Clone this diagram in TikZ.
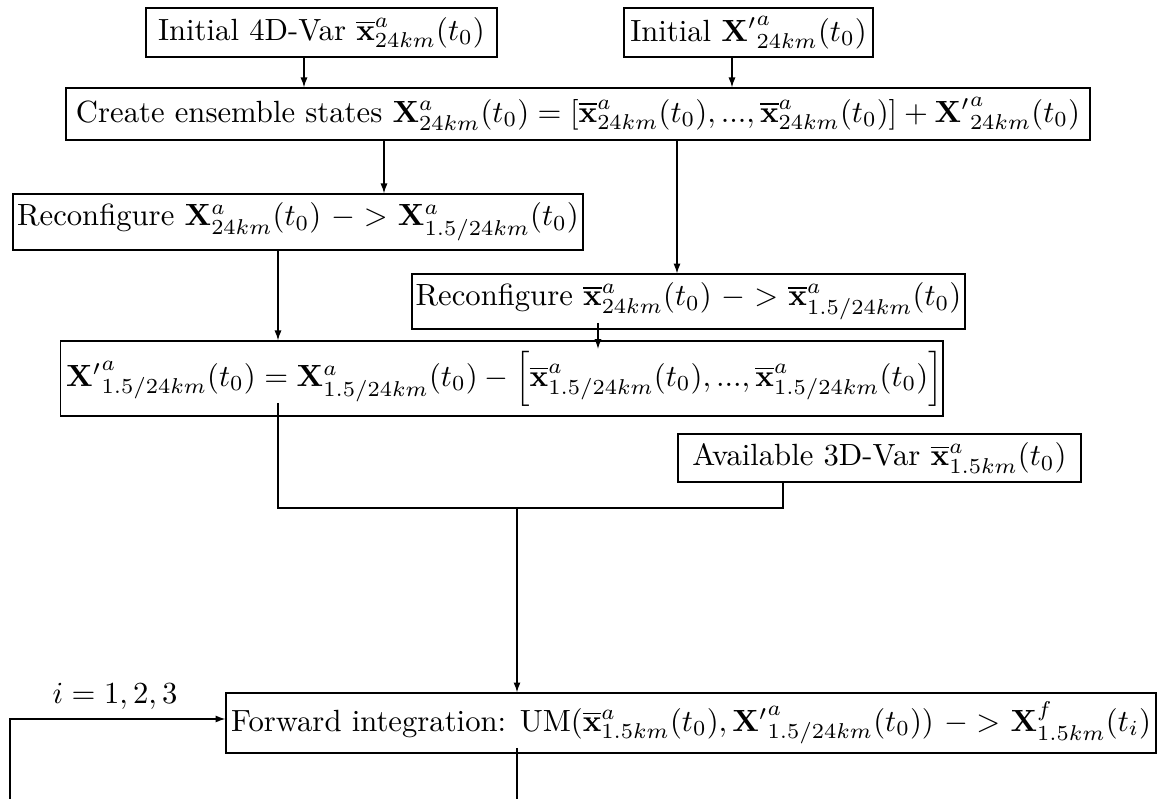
\documentclass[tikz,border=0pt]{standalone}
\usetikzlibrary{arrows.meta}
\begin{document}
\begin{tikzpicture}[x=0.326pt,y=-0.326pt,
  box/.style={draw,inner sep=0pt,line width=0.4pt},
  arr/.style={-{Latex[length=3.2pt,width=2.3pt]}},
  conn/.style={line width=0.4pt}]
\useasboundingbox (0,0) rectangle (1159,799);
% boxes
\node[box,minimum width=114.4pt,minimum height=16pt] (init4d) at (321.5,32.5)
  {Initial 4D-Var $\overline{\mathbf{x}}^a_{24km}(t_0)$};
\node[box,minimum width=81.2pt,minimum height=16pt] (initX) at (748.5,32.5)
  {Initial $\mathbf{X'}^a_{24km}(t_0)$};
\node[box,minimum width=333.8pt,minimum height=17pt] (create) at (578,114)
  {Create ensemble states $\mathbf{X}^a_{24km}(t_0) = [\overline{\mathbf{x}}^a_{24km}(t_0), ..., \overline{\mathbf{x}}^a_{24km}(t_0)] + \mathbf{X'}^a_{24km}(t_0)$};
\node[box,minimum width=185.8pt,minimum height=18.3pt] (recx) at (298,222)
  {Reconfigure $\mathbf{X}^a_{24km}(t_0)$ $->$ $\mathbf{X}^a_{1.5/24km}(t_0)$};
\node[box,minimum width=180.3pt,minimum height=17.9pt] (recxb) at (688.5,301.5)
  {Reconfigure $\overline{\mathbf{x}}^a_{24km}(t_0)$ $->$ $\overline{\mathbf{x}}^a_{1.5/24km}(t_0)$};
\node[box,minimum width=284pt,minimum height=24.5pt] (xp) at (501.5,378.5)
  {\hspace*{2pt}$\mathbf{X'}^a_{1.5/24km}(t_0) = \mathbf{X}^a_{1.5/24km}(t_0) - \left[\overline{\mathbf{x}}^a_{1.5/24km}(t_0), ..., \overline{\mathbf{x}}^a_{1.5/24km}(t_0)\right]$};
\node[box,minimum width=131.4pt,minimum height=15.6pt] (avail) at (879.5,458)
  {Available 3D-Var $\overline{\mathbf{x}}^a_{1.5km}(t_0)$};
\node[box,minimum width=303.2pt,minimum height=19.6pt] (fwd) at (691,723)
  {Forward integration: UM$(\overline{\mathbf{x}}^a_{1.5km}(t_0), \mathbf{X'}^a_{1.5/24km}(t_0))$ $->$ $\mathbf{X}^f_{1.5km}(t_i)$};
\node[inner sep=0pt] (ilab) at (115,696) {$i = 1, 2, 3$};
% helper coordinates
\coordinate (xa) at (304,0);
\coordinate (xb) at (732,0);
\coordinate (xc) at (384,0);
\coordinate (xd) at (677,0);
\coordinate (xe) at (278,0);
\coordinate (s6) at (598,323);
\coordinate (e6) at (598,349);
\coordinate (s7) at (278,403);
\coordinate (jl) at (278,508);
\coordinate (jr) at (783,508);
\coordinate (jm) at (517,508);
\coordinate (s9) at (517,748);
\coordinate (e9) at (517,799);
\coordinate (lp) at (10,799);
\coordinate (lq) at (10,719);
% connectors
\draw[conn,arr] (init4d.south -| xa) -- (create.north -| xa);
\draw[conn,arr] (initX.south -| xb) -- (create.north -| xb);
\draw[conn,arr] (create.south -| xc) -- (recx.north -| xc);
\draw[conn,arr] (create.south -| xd) -- (recxb.north -| xd);
\draw[conn,arr] (recx.south -| xe) -- (xp.north -| xe);
\draw[conn,arr] (s6) -- (e6);
\draw[conn] (s7) -- (jl) -- (jr) -- (avail.south -| jr);
\draw[conn,arr] (jm) -- (fwd.north -| jm);
\draw[conn] (s9) -- (e9);
\draw[conn,arr] (lp) -- (lq) -- (fwd.west |- lq);
\end{tikzpicture}
\end{document}
